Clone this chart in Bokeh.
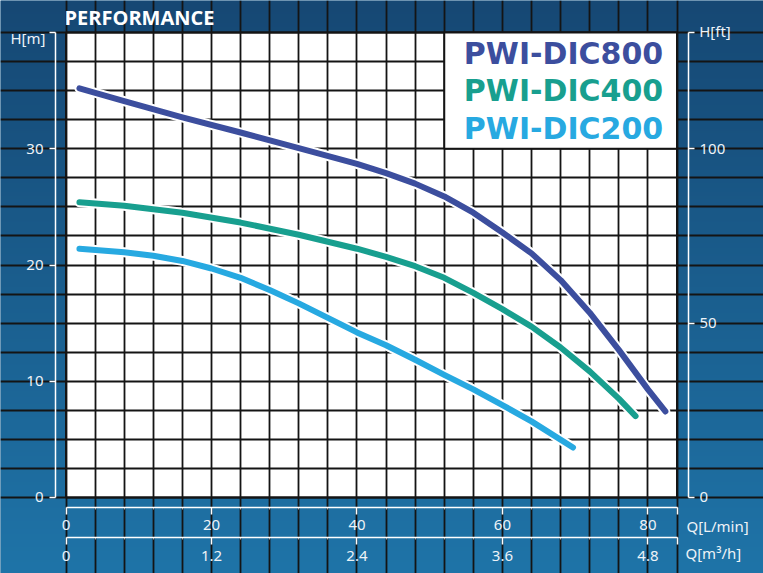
import numpy as np
from bokeh.plotting import figure
from bokeh.models import Range1d, LinearAxis, FixedTicker, Label, Grid
from bokeh.embed import file_html
from bokeh.resources import INLINE

# ---------------- data ----------------
SERIES_NAMES = ["PWI-DIC800", "PWI-DIC400", "PWI-DIC200"]
SERIES_COLORS = ["#3c4e9e", "#189f8f", "#27a9e1"]

Q_DIC800 = [1.85, 8, 16, 24, 32, 40, 44, 48, 52, 56, 60, 64, 68, 72, 76, 80, 82.4]
H_DIC800 = [35.2, 34.1, 32.7, 31.4, 30.05, 28.7, 27.9, 27.0, 25.9, 24.5, 22.8, 21.0, 18.7, 15.9, 12.7, 9.3, 7.4]

Q_DIC400 = [1.85, 8, 16, 24, 32, 40, 44, 48, 52, 56, 60, 64, 68, 72, 76, 78.3]
H_DIC400 = [25.4, 25.1, 24.5, 23.65, 22.6, 21.4, 20.7, 19.9, 18.9, 17.6, 16.2, 14.7, 12.9, 10.85, 8.5, 7.0]

Q_DIC200 = [1.85, 8, 12, 16, 20, 24, 28, 32, 40, 44, 48, 52, 56, 60, 64, 69.7]
H_DIC200 = [21.4, 21.1, 20.8, 20.35, 19.7, 18.9, 17.85, 16.7, 14.2, 13.1, 11.85, 10.55, 9.3, 7.95, 6.55, 4.3]

Q_LMIN_TICKS = [0, 20, 40, 60, 80]
Q_LMIN_LABELS = ["0", "20", "40", "60", "80"]
Q_M3H_TICKS = [0, 1.2, 2.4, 3.6, 4.8]
Q_M3H_LABELS = ["0", "1.2", "2.4", "3.6", "4.8"]
H_M_TICKS = [0, 10, 20, 30]
H_FT_TICKS = [0, 50, 100]

Q_MAX = 84          # L/min, right edge of the grid
H_MAX = 40          # m, top edge of the grid
Q_STEP = 4          # grid cell width
H_STEP = 2.5        # grid cell height
M3H_PER_LMIN = 0.06
M_PER_FT_AXIS = 0.3  # right-hand axis: 100 ft drawn at 30 m

TITLE = "PERFORMANCE"
H_M_LABEL = "H[m]"
H_FT_LABEL = "H[ft]"
Q_LMIN_LABEL = "Q[L/min]"
Q_M3H_LABEL = "Q[m³/h]"

# ---------------- style ----------------
BG_TOP = (22, 72, 116)
BG_BOTTOM = (31, 116, 168)
TXT = "#eef3f7"
GRID = "#141414"
TICK_FONT = "Noto Sans"

W, H = 763, 573
# the frame covers the whole canvas; axes sit at fixed locations inside it
X0, X1 = -9.005, 95.89
Y0, Y1 = -6.538, 42.753
AX_LEFT_AT = -1.443
AX_RIGHT_AT = 85.58
AX_B1_AT = -0.86
AX_B2_AT = -3.415

p = figure(width=W, height=H, output_backend="svg", toolbar_location=None,
           x_range=Range1d(X0, X1), y_range=Range1d(Y0, Y1),
           x_axis_type=None, y_axis_type=None,
           min_border_left=0, min_border_right=0,
           min_border_top=0, min_border_bottom=0)
p.background_fill_color = "#1b5e8e"
p.border_fill_color = "#1b5e8e"
p.outline_line_color = None
p.extra_x_ranges = {"m3h": Range1d(X0 * M3H_PER_LMIN, X1 * M3H_PER_LMIN)}
p.extra_y_ranges = {"ft": Range1d(Y0 / M_PER_FT_AXIS, Y1 / M_PER_FT_AXIS)}

# background gradient (row 0 = bottom)
n = H
t = np.linspace(0, 1, n)[:, None]
img = np.zeros((n, 1), dtype=np.uint32)
view = img.view(dtype=np.uint8).reshape((n, 1, 4))
for k in range(3):
    view[:, :, k] = (BG_BOTTOM[k] + (BG_TOP[k] - BG_BOTTOM[k]) * t).astype(np.uint8)
view[:, :, 3] = 255
p.image_rgba(image=[img], x=X0, y=Y0, dw=X1 - X0, dh=Y1 - Y0, level="image")

# white chart area
p.quad(left=[0], right=[Q_MAX], bottom=[0], top=[H_MAX], fill_color="white",
       line_color=GRID, line_width=2, level="image")

# grid
xg = Grid(dimension=0, ticker=FixedTicker(ticks=[i * Q_STEP for i in range(int(Q_MAX / Q_STEP) + 1)]),
          bounds=(0, Q_MAX), grid_line_color=GRID, grid_line_width=1.8)
yg = Grid(dimension=1, ticker=FixedTicker(ticks=[i * H_STEP for i in range(int(H_MAX / H_STEP) + 1)]),
          bounds=(0, H_MAX), grid_line_color=GRID, grid_line_width=1.8)
p.add_layout(xg)
p.add_layout(yg)

# legend box
p.quad(left=[52], right=[Q_MAX], bottom=[30], top=[H_MAX], fill_color="white",
       line_color=GRID, line_width=2)

# curves
for qs, hs, c in zip([Q_DIC800, Q_DIC400, Q_DIC200], [H_DIC800, H_DIC400, H_DIC200], SERIES_COLORS):
    p.line(qs, hs, line_color="white", line_width=10, line_cap="round", line_join="round")
    p.line(qs, hs, line_color=c, line_width=6, line_cap="round", line_join="round")

def style_axis(ax):
    ax.axis_line_color = "white"
    ax.axis_line_width = 1.5
    ax.major_tick_line_color = "white"
    ax.major_tick_line_width = 1.5
    ax.major_tick_in = 0
    ax.major_tick_out = 7
    ax.minor_tick_line_color = "white"
    ax.minor_tick_line_alpha = 0.6
    ax.minor_tick_in = 0
    ax.minor_tick_out = 2
    ax.major_label_text_color = TXT
    ax.major_label_text_font = TICK_FONT
    ax.major_label_text_font_size = "15px"
    ax.major_label_standoff = 4

# left axis (m)
ax_l = LinearAxis(ticker=FixedTicker(ticks=H_M_TICKS + [H_MAX]), bounds=(0, H_MAX),
                  major_label_overrides={H_MAX: ""}, fixed_location=AX_LEFT_AT)
style_axis(ax_l)
ax_l.major_tick_out = 6
ax_l.major_label_standoff = 6
p.add_layout(ax_l, "left")

# right axis (ft)
ft_top = H_MAX / M_PER_FT_AXIS
ax_r = LinearAxis(y_range_name="ft", ticker=FixedTicker(ticks=H_FT_TICKS + [ft_top]),
                  bounds=(0, ft_top), major_label_overrides={ft_top: ""},
                  fixed_location=AX_RIGHT_AT)
style_axis(ax_r)
ax_r.major_tick_out = 6
ax_r.major_label_standoff = 5
p.add_layout(ax_r, "right")

# bottom axes
ax_b1 = LinearAxis(ticker=FixedTicker(ticks=Q_LMIN_TICKS + [Q_MAX],
                                      minor_ticks=[i * Q_STEP for i in range(int(Q_MAX / Q_STEP) + 1)]),
                   bounds=(0, Q_MAX), fixed_location=AX_B1_AT,
                   major_label_overrides={**dict(zip(Q_LMIN_TICKS, Q_LMIN_LABELS)), Q_MAX: ""})
style_axis(ax_b1)
ax_b1.major_label_standoff = 6
p.add_layout(ax_b1, "below")

m3h_max = Q_MAX * M3H_PER_LMIN
ax_b2 = LinearAxis(x_range_name="m3h",
                   ticker=FixedTicker(ticks=Q_M3H_TICKS + [m3h_max],
                                      minor_ticks=[i * Q_STEP * M3H_PER_LMIN for i in range(int(Q_MAX / Q_STEP) + 1)]),
                   bounds=(0, m3h_max), fixed_location=AX_B2_AT,
                   major_label_overrides={**dict(zip(Q_M3H_TICKS, Q_M3H_LABELS)), m3h_max: ""})
style_axis(ax_b2)
ax_b2.major_label_standoff = 7
p.add_layout(ax_b2, "below")

# texts (data units, alphabetic baseline)
def add_label(text, x, y, size, align="left", font=TICK_FONT, style="normal", color=TXT):
    p.add_layout(Label(x=x, y=y, text=text,
                       text_font=font, text_font_size=size, text_font_style=style,
                       text_color=color, text_align=align, text_baseline="alphabetic"))

add_label(TITLE, -0.2, 41.29, "20px", font="Open Sans", style="bold", color="white")
add_label(H_M_LABEL, -2.82, 39.57, "15px", align="right")
add_label(H_FT_LABEL, 87.05, 40.09, "15px")
add_label(Q_LMIN_LABEL, 85.3, -2.41, "15px")
add_label(Q_M3H_LABEL, 85.16, -4.78, "15px")

# series names inside the legend box
for name, c, yv in zip(SERIES_NAMES, SERIES_COLORS, [38.18, 34.97, 31.72]):
    add_label(name, 54.69, yv, "30px", font="DejaVu Sans", style="bold", color=c)

open("out.html", "w").write(file_html(p, INLINE))
